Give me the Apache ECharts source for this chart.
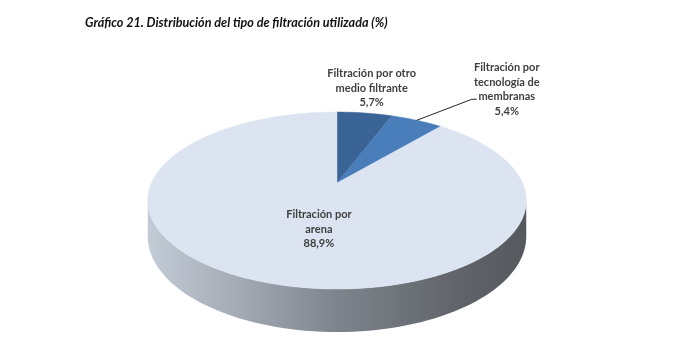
<!DOCTYPE html>
<html>
<head>
<meta charset="utf-8">
<script src="https://cdn.jsdelivr.net/npm/echarts@6/dist/echarts.min.js"></script>
<style>html,body{margin:0;padding:0;background:#fff}#c{width:700px;height:352px}</style>
</head>
<body>
<div id="c"></div>
<script>
// ---- data ----
const categories = ['Filtración por otro medio filtrante', 'Filtración por tecnología de membranas', 'Filtración por arena'];
const labelNames = ['Filtración por otro\nmedio filtrante', 'Filtración por\ntecnología de\nmembranas', 'Filtración por\narena'];
const values = [5.7, 5.4, 88.9];
const titleText = 'Gráfico 21. Distribución del tipo de filtración utilizada (%)';

// ---- styling / geometry ----
const topColors = ['#3a6396', '#4a7ebb', '#dbe4f0'];
const PIE = { cx: 337, cy: 183, A: 85, B: 185.5, k: 0.198, H: 34.5 };
const labelStyle = [
  { r: 1.0, dx: 7, dy: -25 },
  { r: 1.0, dx: 90, dy: -31, line: [[0, 0], [55, -21], [60, -21]] },
  { r: 0.45, dx: 13, dy: 7 }
];
const FONT = 'Lato, "Open Sans", sans-serif';

function proj(theta, r, down) {
  const x3 = r * Math.sin(theta), z3 = r * Math.cos(theta);
  const p = 1 / (1 + PIE.k * z3);
  return [PIE.cx + PIE.B * x3 * p, PIE.cy - PIE.A * z3 * p + (down ? PIE.H * p : 0)];
}

function fmt(v) { return v.toFixed(1).replace('.', ',') + '%'; }

function renderItem(params, api) {
  const i = params.dataIndex;
  const v = api.value(0);
  const total = values.reduce((a, b) => a + b, 0);
  let start = 0;
  for (let j = 0; j < i; j++) start += values[j];
  const a0 = start / total * 2 * Math.PI;
  const a1 = (start + v) / total * 2 * Math.PI;
  const children = [];

  // side wall (visible front part)
  const thR = Math.acos(-PIE.k), thL = 2 * Math.PI - thR;
  const s = Math.max(a0, thR), e = Math.min(a1, thL);
  if (s < e) {
    const pts = [];
    const n = 80;
    for (let t = 0; t <= n; t++) pts.push(proj(s + (e - s) * t / n, 1, false));
    for (let t = n; t >= 0; t--) pts.push(proj(s + (e - s) * t / n, 1, true));
    const L = proj(thL, 1, false), R = proj(thR, 1, false);
    children.push({
      type: 'polygon',
      shape: { points: pts },
      style: {
        fill: new echarts.graphic.LinearGradient(L[0], 0, R[0], 0, [
          { offset: 0, color: '#c3cbd6' },
          { offset: 0.25, color: '#a2a9b3' },
          { offset: 0.5, color: '#7f848c' },
          { offset: 0.8, color: '#62666c' },
          { offset: 1, color: '#55585d' }
        ], true),
        stroke: null
      }
    });
  }

  // top face
  const top = [[PIE.cx, PIE.cy]];
  const m = Math.max(8, Math.ceil((a1 - a0) / 0.02));
  for (let t = 0; t <= m; t++) top.push(proj(a0 + (a1 - a0) * t / m, 1, false));
  children.push({
    type: 'polygon',
    shape: { points: top },
    style: { fill: topColors[i], stroke: topColors[i], lineWidth: 0.5 }
  });

  // label
  const mid = (a0 + a1) / 2;
  const ls = labelStyle[i];
  const anchor = proj(mid, ls.r, false);
  if (ls.line) {
    children.push({
      type: 'polyline',
      shape: { points: ls.line.map(d => [anchor[0] + d[0], anchor[1] + d[1]]) },
      style: { stroke: '#262626', lineWidth: 1, fill: null }
    });
  }
  children.push({
    type: 'text',
    style: {
      text: labelNames[i] + '\n' + fmt(v),
      x: anchor[0] + ls.dx,
      y: anchor[1] + ls.dy,
      align: 'center',
      verticalAlign: 'middle',
      fill: '#404040',
      font: 'bold 11px ' + FONT,
      lineHeight: 14.5
    }
  });

  return { type: 'group', children: children };
}

const chart = echarts.init(document.getElementById('c'), null, { renderer: 'canvas' });
chart.setOption({
  animation: false,
  backgroundColor: '#ffffff',
  title: {
    text: titleText,
    left: 80,
    top: 11,
    textStyle: { fontFamily: FONT, fontSize: 12.6, fontWeight: 'bold', fontStyle: 'italic', color: '#111111' }
  },
  series: [{
    type: 'custom',
    coordinateSystem: 'none',
    renderItem: renderItem,
    data: values.map((v, i) => ({ name: categories[i], value: [v] }))
  }]
});
</script>
</body>
</html>
